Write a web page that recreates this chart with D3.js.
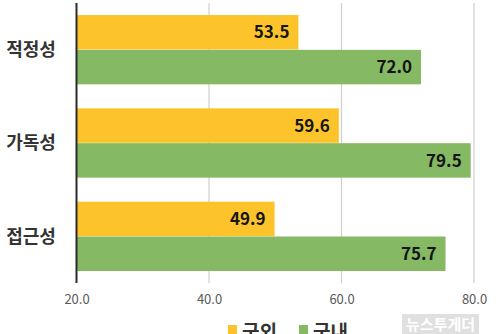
<!DOCTYPE html>
<html>
<head>
<meta charset="utf-8">
<script src="https://cdn.jsdelivr.net/npm/d3@7"></script>
<style>
  html, body { margin: 0; padding: 0; background: #fff; }
  svg { display: block; }
</style>
</head>
<body>
<svg id="chart" width="500" height="334"></svg>
<script>
// Survey scores by category: overseas (국외) vs domestic (국내)
const categories = ["적정성", "가독성", "접근성"];
const overseas = [53.5, 59.6, 49.9];
const domestic = [72.0, 79.5, 75.7];
const seriesNames = ["국외", "국내"];
const tickValues = [20, 40, 60, 80];

const colors = { "국외": "#FCC42A", "국내": "#86B963" };
const W = 500, H = 334;
const margin = { top: 3, right: 26, bottom: 51, left: 76.5 };

const svg = d3.select("#chart");
const font = "'Noto Sans CJK KR', 'Noto Sans', sans-serif";

const x = d3.scaleLinear().domain([20, 80]).range([margin.left, 474]);
const y = d3.scaleBand().domain(categories).range([margin.top, H - margin.bottom])
  .paddingInner(0.25).paddingOuter(0.125);
const ySub = d3.scaleBand().domain(seriesNames).range([0, y.bandwidth()]).padding(0.01);

// vertical gridlines
svg.append("g")
  .selectAll("line")
  .data(tickValues.slice(1))
  .join("line")
  .attr("x1", d => x(d)).attr("x2", d => x(d))
  .attr("y1", margin.top).attr("y2", H - margin.bottom)
  .attr("stroke", "#cfcfcf").attr("stroke-width", 1.2);

const rows = categories.map((c, i) => ({ cat: c, vals: [
  { key: "국외", v: overseas[i] }, { key: "국내", v: domestic[i] }] }));

const g = svg.append("g")
  .selectAll("g")
  .data(rows)
  .join("g")
  .attr("transform", d => `translate(0,${y(d.cat)})`);

g.selectAll("rect")
  .data(d => d.vals)
  .join("rect")
  .attr("x", x(20))
  .attr("y", d => ySub(d.key))
  .attr("width", d => x(d.v) - x(20))
  .attr("height", ySub.bandwidth())
  .attr("fill", d => colors[d.key]);

g.selectAll("text.val")
  .data(d => d.vals)
  .join("text")
  .attr("class", "val")
  .attr("x", d => x(d.v) - 9)
  .attr("y", d => ySub(d.key) + ySub.bandwidth() / 2)
  .attr("dy", "0.36em")
  .attr("text-anchor", "end")
  .attr("font-family", font)
  .attr("font-weight", 700)
  .attr("font-size", 17)
  .attr("fill", "#141414")
  .text(d => d.v.toFixed(1));

// category labels
svg.append("g")
  .selectAll("text")
  .data(categories)
  .join("text")
  .attr("x", 31)
  .attr("y", d => y(d) + y.bandwidth() / 2)
  .attr("dy", "0.36em")
  .attr("text-anchor", "middle")
  .attr("font-family", font)
  .attr("font-weight", 700)
  .attr("font-size", 18)
  .attr("fill", "#333")
  .text(d => d);

// x axis tick labels
const xAxis = d3.axisBottom(x).tickValues(tickValues).tickSize(0).tickPadding(0)
  .tickFormat(d3.format(".1f"));
const ax = svg.append("g").attr("transform", `translate(0,${H - margin.bottom + 12})`).call(xAxis);
ax.select(".domain").remove();
ax.selectAll("text")
  .attr("font-family", font)
  .attr("font-size", 13)
  .attr("fill", "#595959");

// category axis line
svg.append("line")
  .attr("x1", x(20)).attr("x2", x(20))
  .attr("y1", margin.top).attr("y2", H - margin.bottom)
  .attr("stroke", "#2b2b2b").attr("stroke-width", 2);

// legend (sits at the bottom edge of the frame)
const legend = svg.append("g").attr("transform", "translate(228,329)");
const items = legend.selectAll("g")
  .data(seriesNames)
  .join("g")
  .attr("transform", (d, i) => `translate(${i * 71},0)`);
items.append("rect")
  .attr("x", 0).attr("y", -4).attr("width", 9).attr("height", 9)
  .attr("fill", d => colors[d]);
items.append("text")
  .attr("x", 14).attr("y", 10)
  .attr("font-family", font)
  .attr("font-weight", 700)
  .attr("font-size", 19)
  .attr("fill", "#333")
  .text(d => d);

// publisher mark
const mark = svg.append("g").attr("transform", "translate(402,314)");
mark.append("rect").attr("width", 77).attr("height", 20).attr("fill", "#d8d8d8").attr("opacity", 0.8);
mark.append("text")
  .attr("x", 38.5).attr("y", 16)
  .attr("text-anchor", "middle")
  .attr("font-family", font)
  .attr("font-weight", 700)
  .attr("font-size", 15)
  .attr("fill", "#fff")
  .text("뉴스투게더");
</script>
</body>
</html>
